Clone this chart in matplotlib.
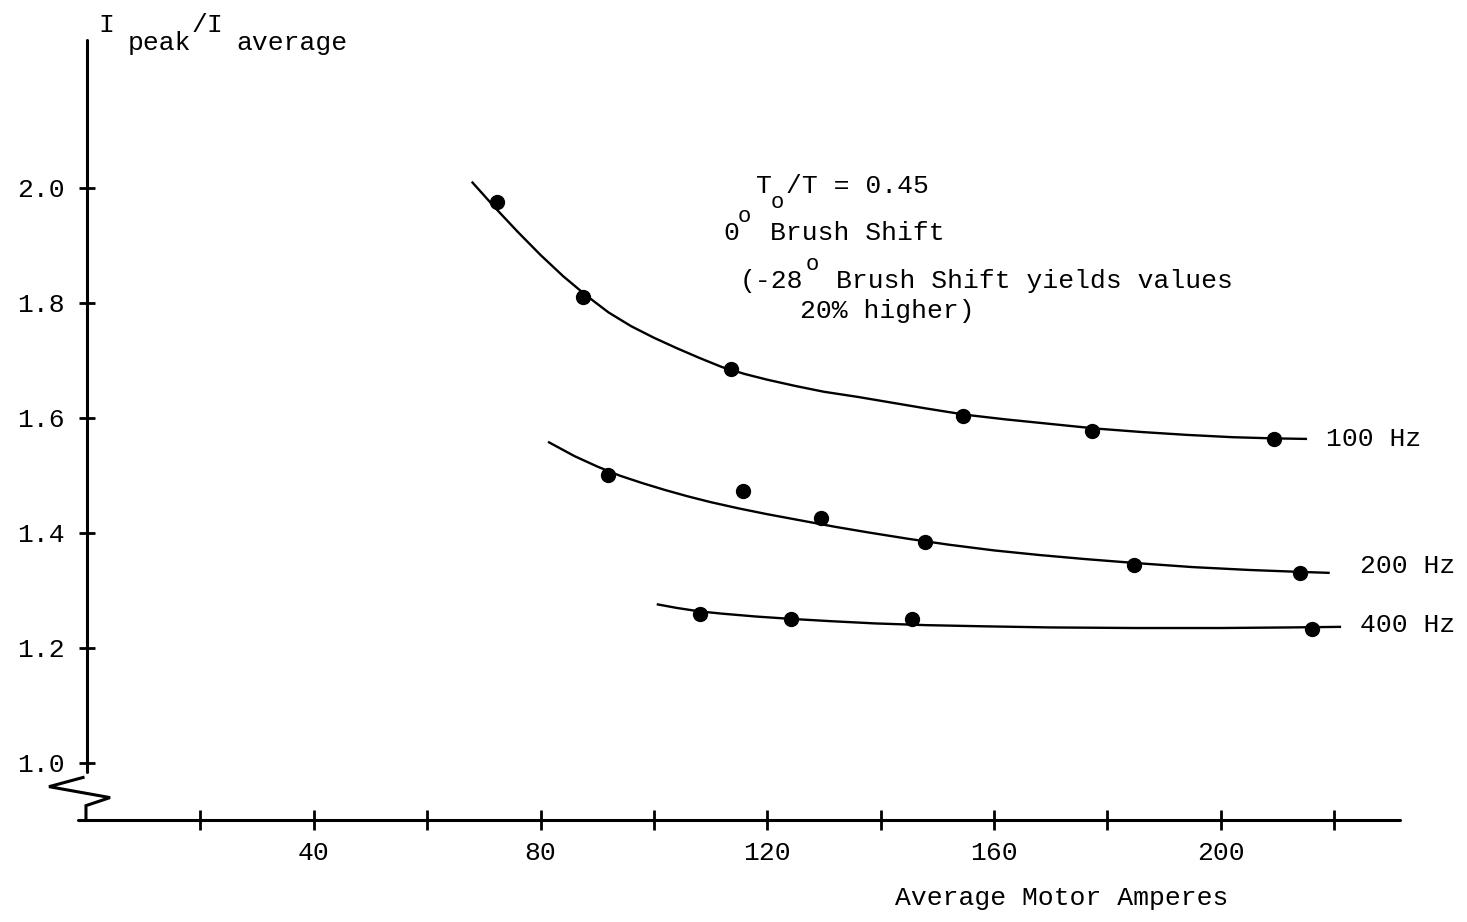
import matplotlib
matplotlib.use("Agg")
import matplotlib.pyplot as plt

plt.rcParams['font.family'] = ['Liberation Mono', 'DejaVu Sans Mono']

# measured points (average motor amperes, I_peak / I_average)
amps_100 = [72.3, 87.5, 113.6, 154.5, 177.2, 209.3]
ratio_100 = [1.976, 1.810, 1.685, 1.602, 1.576, 1.563]
amps_200 = [91.9, 115.7, 129.5, 147.8, 184.7, 213.9]
ratio_200 = [1.501, 1.473, 1.426, 1.383, 1.344, 1.330]
amps_400 = [108.1, 124.2, 145.5, 216.0]
ratio_400 = [1.259, 1.250, 1.250, 1.233]

# hand-drawn fitted curves
fit_x_100 = [68, 72, 76, 80, 84, 88, 92, 96, 100, 104, 108, 112, 116, 120, 125, 130, 136,
             142, 148, 155, 162, 170, 178, 186, 194, 202, 209, 215]
fit_y_100 = [2.009, 1.965, 1.923, 1.883, 1.846, 1.813, 1.783, 1.759, 1.739, 1.721, 1.704,
             1.688, 1.676, 1.666, 1.655, 1.645, 1.636, 1.626, 1.616, 1.605, 1.597, 1.589,
             1.581, 1.575, 1.570, 1.566, 1.564, 1.563]
fit_x_200 = [81.5, 86, 90, 94, 98, 102, 106, 110, 115, 120, 126, 132, 138, 145, 152, 160,
             168, 176, 185, 195, 205, 213, 219]
fit_y_200 = [1.557, 1.533, 1.515, 1.499, 1.486, 1.474, 1.463, 1.453, 1.442, 1.432, 1.421,
             1.410, 1.400, 1.389, 1.379, 1.369, 1.361, 1.354, 1.347, 1.340, 1.335, 1.332, 1.330]
fit_x_400 = [100.7, 104, 108, 112, 118, 124, 131, 139, 148, 158, 170, 185, 200, 212, 221]
fit_y_400 = [1.275, 1.269, 1.263, 1.259, 1.254, 1.250, 1.246, 1.242, 1.239, 1.237, 1.235,
             1.234, 1.234, 1.235, 1.236]

curve_labels = ['100 Hz', '200 Hz', '400 Hz']

x_major = [40, 80, 120, 160, 200]
x_ticks = [20, 40, 60, 80, 100, 120, 140, 160, 180, 200, 220]
y_ticks = [1.0, 1.2, 1.4, 1.6, 1.8, 2.0]

W, H = 1467, 922
FS = 19
fig = plt.figure(figsize=(W / 100, H / 100), dpi=100)
ax = fig.add_axes([87 / W, 1 - 820 / H, 1313 / W, 780 / H])
ax.set_xlim(0, 231.6)
ax.set_ylim(0.9, 2.257)

for s in ['top', 'right']:
    ax.spines[s].set_visible(False)
ax.spines['left'].set_bounds(0.984, 2.257)
ax.spines['bottom'].set_bounds(-1.6, 231.6)
for s in ['left', 'bottom']:
    ax.spines[s].set_linewidth(2.2)
    ax.spines[s].set_capstyle('round')

ax.set_xticks(x_ticks)
ax.set_xticklabels([str(t) if t in x_major else '' for t in x_ticks])
ax.set_yticks(y_ticks)
ax.set_yticklabels(['%.1f' % t for t in y_ticks])
ax.tick_params(axis='x', direction='inout', length=14, width=2, pad=8, labelsize=FS)
ax.tick_params(axis='y', direction='inout', length=12, width=2, pad=10, labelsize=FS)

# axis break on the y axis
brk_x = [-0.7, -6.7, 4.06, -0.18, -0.18]
brk_y = [0.974, 0.958, 0.939, 0.925, 0.9]
ax.plot(brk_x, brk_y, color='black', lw=2.2, clip_on=False, solid_joinstyle='miter')

fits = [(fit_x_100, fit_y_100), (fit_x_200, fit_y_200), (fit_x_400, fit_y_400)]
pts = [(amps_100, ratio_100), (amps_200, ratio_200), (amps_400, ratio_400)]
for (fx, fy), (px, py) in zip(fits, pts):
    ax.plot(fx, fy, color='black', lw=1.7, solid_joinstyle='round')
    ax.plot(px, py, 'o', color='black', ms=10)

ax.text(fit_x_100[-1] + 3.5, fit_y_100[-1], curve_labels[0], fontsize=FS, va='center')
ax.text(fit_x_200[-1] + 5.5, fit_y_200[-1] + 0.012, curve_labels[1], fontsize=FS, va='center')
ax.text(fit_x_400[-1] + 3.5, fit_y_400[-1] + 0.004, curve_labels[2], fontsize=FS, va='center')


def ptext(x, y, s, size=FS, **kw):
    fig.text(x / W, 1 - y / H, s, fontsize=size, va='baseline', **kw)


# y label
ptext(98, 32, 'I')
ptext(128, 50, 'peak')
ptext(192, 32, '/I')
ptext(236, 50, 'average')

# x label
ptext(895, 905, 'Average Motor Amperes')

# annotation block
ptext(756, 193, 'T')
ptext(771, 208, 'o', size=16)
ptext(786, 193, '/T = 0.45')
ptext(723, 240, '0')
ptext(738, 222, 'o', size=16)
ptext(770, 240, 'Brush Shift')
ptext(740, 288, '(-28')
ptext(806, 270, 'o', size=16)
ptext(836, 288, 'Brush Shift yields values')
ptext(800, 318, '20% higher)')

fig.savefig('out.png', dpi=100)
